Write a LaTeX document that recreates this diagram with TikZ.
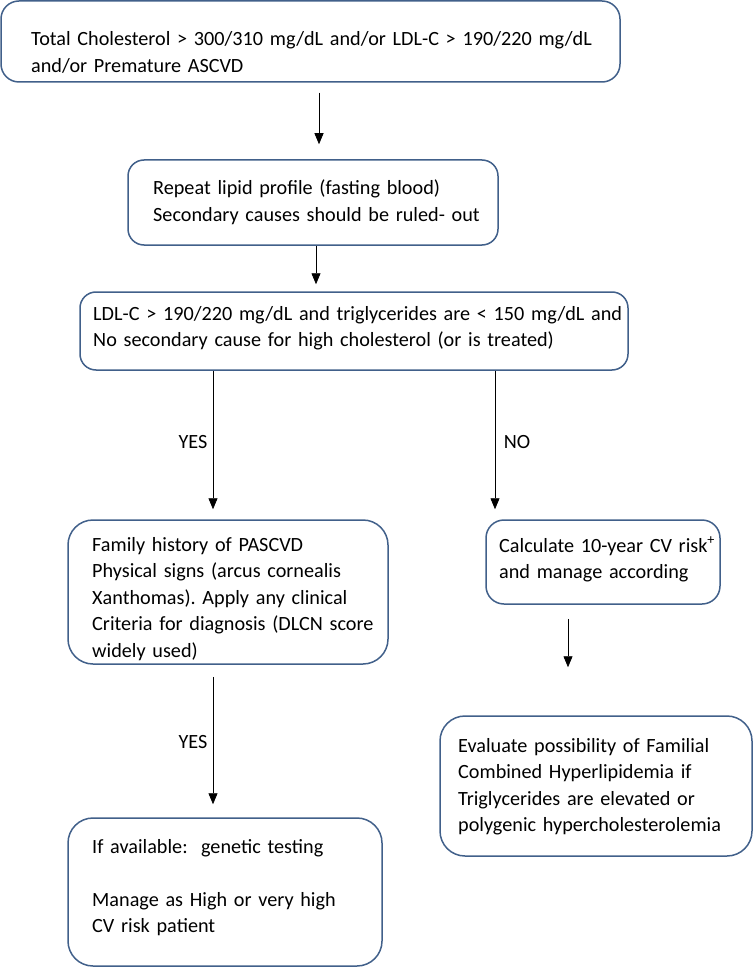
\documentclass[tikz,border=0pt]{standalone}
\usepackage{fontspec}
\setmainfont{Carlito}
\usetikzlibrary{arrows.meta,calc}
\definecolor{boxblue}{HTML}{41608A}
\frenchspacing
\tikzset{
  box/.style={draw=boxblue, line width=1.5pt, rectangle, rounded corners=#1, inner sep=0pt, fill=white},
  box/.default=18pt,
  txt/.style={inner sep=0pt, anchor=base west, align=left, text width=#1, font=\fontsize{20.2}{26.5}\selectfont},
  txt/.default=640pt,
  lbl/.style={inner sep=0pt, anchor=base, font=\fontsize{20.2}{26.5}\selectfont},
  arr/.style={draw=black, line width=0.8pt, -{Triangle[length=11pt,width=9pt]}}
}
\begin{document}
\begin{tikzpicture}[x=1pt,y=-1pt]
\useasboundingbox[fill=white] (0,0) rectangle (754,968);
% boxes
\node[box=18pt, minimum width=619pt, minimum height=81pt] (b1) at (310.5,41.5) {};
\node[box=16pt, minimum width=370pt, minimum height=85pt] (b2) at (313,202.5) {};
\node[box=16pt, minimum width=548pt, minimum height=78pt] (b3) at (354,331) {};
\node[box=25pt, minimum width=320pt, minimum height=144pt] (b4) at (228,592) {};
\node[box=18pt, minimum width=234pt, minimum height=84pt] (b5) at (603,562) {};
\node[box=25pt, minimum width=312pt, minimum height=140pt] (b6) at (596,786) {};
\node[box=25pt, minimum width=314pt, minimum height=148pt] (b7) at (225,892) {};
% texts
\node[txt] (t1) at (31,46) {Total Cholesterol > 300/310 mg/dL and/or LDL-C > 190/220 mg/dL\\and/or Premature ASCVD};
\node[txt] (t2) at (153,195) {Repeat lipid profile (fasting blood)\\Secondary causes should be ruled- out};
\node[txt] (t3) at (93,320) {LDL-C > 190/220 mg/dL and triglycerides are < 150 mg/dL and\\No secondary cause for high cholesterol (or is treated)};
\node[txt=300pt] (t4) at (92,551) {Family history of PASCVD\\Physical signs (arcus cornealis\\Xanthomas). Apply any clinical\\Criteria for diagnosis (DLCN score\\widely used)};
\node[txt=230pt] (t5) at (499,552) {Calculate 10-year CV risk\textsuperscript{+}\\and manage according};
\node[txt=300pt] (t6) at (458,752) {Evaluate possibility of Familial\\Combined Hyperlipidemia if\\Triglycerides are elevated or\\polygenic hypercholesterolemia};
\node[txt=300pt] (t7) at (92,853) {If available:\ \ genetic testing\\[26.5pt]Manage as High or very high\\CV risk patient};
% labels
\node[lbl] (y1) at (193,448) {YES};
\node[lbl] (n1) at (517,448) {NO};
\node[lbl] (y2) at (193,748) {YES};
% arrows
\draw[arr] ([yshift=-10pt]b1.south -| 319,0) -- ([yshift=15pt]b2.north -| 319,0);
\draw[arr] (b2.south -| 316,0) -- ([yshift=7pt]b3.north -| 316,0);
\draw[arr] (b3.south -| 213,0) -- ([yshift=10pt]b4.north -| 213,0);
\draw[arr] (b3.south -| 495,0) -- ([yshift=10pt]b5.north -| 495,0);
\draw[arr] ([yshift=-14pt]b5.south -| 568,0) -- ([yshift=48pt]b6.north -| 568,0);
\draw[arr] ([yshift=-12pt]b4.south -| 213,0) -- ([yshift=13pt]b7.north -| 213,0);
\end{tikzpicture}
\end{document}
